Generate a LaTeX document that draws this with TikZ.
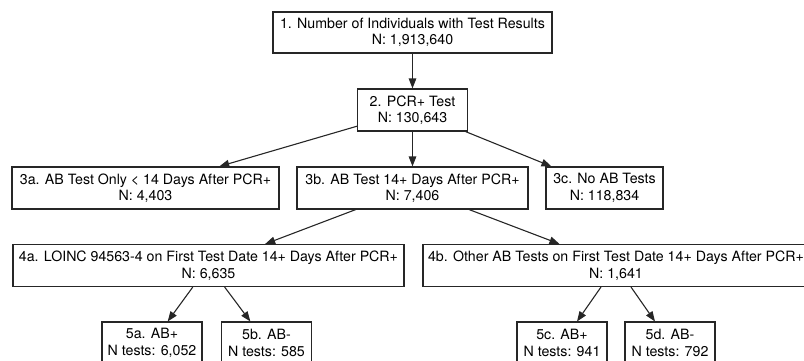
\documentclass[tikz,border=0pt]{standalone}
\usepackage{fontspec}
\setmainfont{TeX Gyre Heros}
\usetikzlibrary{arrows.meta}
\begin{document}
\begin{tikzpicture}[x=1pt,y=-1pt,
  box/.style={draw=black!85,line width=1.1pt,align=center,inner sep=0pt,
    minimum height=42pt,font=\fontsize{14.2}{16.5}\selectfont},
  arr/.style={draw=black!85,line width=1.1pt,-{Triangle[length=10pt,width=7.5pt]}}]
\useasboundingbox (0,0) rectangle (804,360);
\clip (0,0) rectangle (804,360);
\node[box,minimum width=279pt,minimum height=41pt] (n1) at (412.5,32.5) {1. Number of Individuals with Test Results\\N: 1,913,640};
\node[box,minimum width=110pt] (n2) at (412.5,110) {2. PCR+ Test\\N: 130,643};
\node[box,minimum width=267pt] (n3a) at (145.5,188) {3a. AB Test Only < 14 Days After PCR+\\N: 4,403};
\node[box,minimum width=231pt] (n3b) at (412.5,188) {3b. AB Test 14+ Days After PCR+\\N: 7,406};
\node[box,minimum width=117pt] (n3c) at (604.5,188) {3c. No AB Tests\\N: 118,834};
\node[box,minimum width=391pt] (n4a) at (208.5,265.5) {4a. LOINC 94563-4 on First Test Date 14+ Days After PCR+\\N: 6,635};
\node[box,minimum width=386pt] (n4b) at (616,265.5) {4b. Other AB Tests on First Test Date 14+ Days After PCR+\\N: 1,641};
\node[box,minimum width=100pt] (n5a) at (152,343) {5a. AB+\\N tests: 6,052};
\node[box,minimum width=90pt] (n5b) at (266.5,343) {5b. AB-\\N tests: 585};
\node[box,minimum width=90pt] (n5c) at (562,343) {5c. AB+\\N tests: 941};
\node[box,minimum width=90pt] (n5d) at (670,343) {5d. AB-\\N tests: 792};
\draw[arr] (n1) -- (n2);
\draw[arr] (n2) -- (n3a);
\draw[arr] (n2) -- (n3b);
\draw[arr] (n2) -- (n3c);
\draw[arr] (n3b) -- (n4a);
\draw[arr] (n3b) -- (n4b);
\draw[arr] (n4a) -- (n5a);
\draw[arr] (n4a) -- (n5b);
\draw[arr] (n4b) -- (n5c);
\draw[arr] (n4b) -- (n5d);
\end{tikzpicture}
\end{document}
